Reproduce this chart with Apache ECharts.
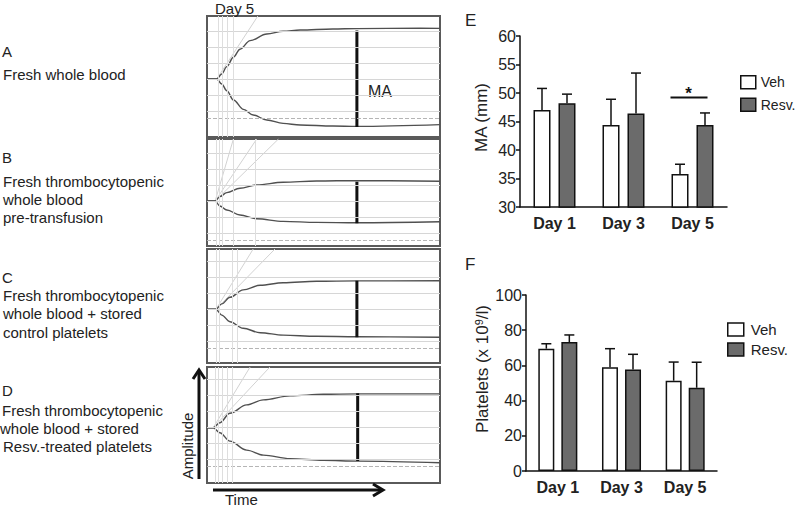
<!DOCTYPE html>
<html><head><meta charset="utf-8">
<script src="https://cdn.jsdelivr.net/npm/echarts@6/dist/echarts.min.js"></script>
<style>html,body{margin:0;padding:0;background:#fff}#c{width:800px;height:507px}</style>
</head><body><div id="c"></div><script>
// ---------- Panel E / F data ----------
const categories = ['Day 1', 'Day 3', 'Day 5'];
const maVeh = [47.0, 44.4, 35.8];
const maVehErr = [50.8, 48.9, 37.5];
const maResv = [48.2, 46.4, 44.4];
const maResvErr = [49.8, 53.5, 46.5];
const maSigLevel = 49.2;           // significance bar over Day 5
const pltVeh = [69.5, 58.9, 51.3];
const pltVehErr = [72.3, 69.5, 61.9];
const pltResv = [73.3, 57.6, 47.3];
const pltResvErr = [77.3, 66.3, 61.8];
const seriesNames = ['Veh', 'Resv.'];

// ---------- TEG traces: [time (min), amplitude (mm)] ----------
const tegA_upper = [[0,0],[2.5,0],[3.8,2.5],[5.1,6.2],[6.8,10.9],[8.5,14.9],[11.1,19.2],[15.4,22.5],[19.6,23.9],[24.0,24.5],[32.4,25.0],[38.6,25.2],[54.9,25.4],[60,25.3]];
const tegA_lower = [[0,0],[2.5,0],[3.8,-2.5],[5.1,-5.9],[6.8,-10.5],[9.4,-15.2],[11.9,-18.0],[15.4,-20.5],[19.6,-22.2],[24.0,-23.0],[32.4,-23.5],[38.6,-23.7],[60,-22.8]];
const tegA_ma = [[38.6,24.2],[38.6,-24.0]];
const tegB_upper = [[0,0],[2.1,0],[3.3,2.2],[5.1,4.2],[8.5,6.4],[12.8,8.0],[19.6,9.4],[28.2,10.0],[38.6,10.2],[60,9.9]];
const tegB_lower = [[0,0],[2.1,0],[3.3,-2.5],[5.1,-4.5],[8.5,-7.0],[12.8,-8.9],[19.6,-10.2],[28.2,-10.7],[38.6,-10.9],[60,-10.4]];
const tegB_ma = [[38.6,9.6],[38.6,-11.1]];
const tegC_upper = [[0,0],[2.3,0],[3.8,2.7],[5.9,6.0],[9.3,9.7],[13.7,12.0],[19.6,13.3],[28.2,14.0],[38.6,14.2],[60,14.3]];
const tegC_lower = [[0,0],[2.3,0],[3.8,-2.9],[5.9,-6.2],[9.3,-9.5],[13.7,-11.7],[19.6,-12.9],[28.2,-13.5],[38.6,-13.7],[60,-14.0]];
const tegC_ma = [[38.6,14.3],[38.6,-14.0]];
const tegD_upper = [[0,0],[1.6,0],[3.3,2.5],[5.9,7.2],[10.2,11.4],[14.5,13.9],[21.4,15.9],[30.0,16.7],[38.8,16.9],[60,16.9]];
const tegD_lower = [[0,0],[1.6,0],[3.3,-2.5],[5.9,-6.7],[10.2,-11.2],[14.5,-13.7],[21.4,-15.5],[30.0,-16.3],[38.8,-16.7],[60,-17.5]];
const tegD_ma = [[38.8,17.2],[38.8,-16.7]];
// reference grid of the tracing paper
const tegLevels = [24, 16, 8, 0, -8, -16];
const tegDashLevel = -19.5;
const tegA_vlines = [2.8, 3.9, 5.2, 6.7];
const tegB_vlines = [2.3, 3.2, 3.8, 6.8, 12.4];
const tegC_vlines = [2.5, 3.2, 6.4, 7.7];
const tegD_vlines = [2.1, 2.8, 3.8, 5.1, 6.4];
const tegA_angle = [[2.5, 13.1]];
const tegB_angle = [[2.1, 6.8], [2.1, 12.8], [2.1, 18.4]];
const tegC_angle = [[2.3, 11.9], [2.3, 17.5]];
const tegD_angle = [[1.6, 11.1], [1.6, 16.2]];

// ---------- layout ----------
const FONT = 'Liberation Sans, Arial, sans-serif';
const TXT = '#222';
const tegPanels = [
  {top:16,  height:121, min:-29,   max:31.5,  up:tegA_upper, lo:tegA_lower, ma:tegA_ma, vl:tegA_vlines, ang:tegA_angle},
  {top:139, height:107, min:-22.5, max:31,    up:tegB_upper, lo:tegB_lower, ma:tegB_ma, vl:tegB_vlines, ang:tegB_angle},
  {top:249, height:114, min:-26.85,max:30.15, up:tegC_upper, lo:tegC_lower, ma:tegC_ma, vl:tegC_vlines, ang:tegC_angle},
  {top:367, height:116, min:-27.65,max:30.35, up:tegD_upper, lo:tegD_lower, ma:tegD_ma, vl:tegD_vlines, ang:tegD_angle}
];

const grid = [], xAxis = [], yAxis = [], series = [];
tegPanels.forEach((p, i) => {
  grid.push({left:207, width:233, top:p.top, height:p.height, show:true, borderColor:'#5a5a5a', borderWidth:2, backgroundColor:'#fff'});
  xAxis.push({gridIndex:i, type:'value', min:0, max:60, show:false});
  yAxis.push({gridIndex:i, type:'value', min:p.min, max:p.max, show:false});
  // paper grid
  series.push({type:'line', xAxisIndex:i, yAxisIndex:i, data:[], silent:true, z:1,
    markLine:{silent:true, symbol:'none', label:{show:false}, animation:false,
      data: tegLevels.map(v => ({yAxis:v, lineStyle:{color:'#d6d6d6', width:1, type:'solid'}}))
        .concat([{yAxis:tegDashLevel, lineStyle:{color:'#b5b5b5', width:1, type:'dashed'}}])
        .concat(p.vl.map(v => ({xAxis:v, lineStyle:{color:'#dedede', width:1, type:'solid'}})))
    }});
  p.ang.forEach(a => {
    series.push({type:'line', xAxisIndex:i, yAxisIndex:i, data:[[a[0],0],[a[1],p.max]], showSymbol:false, silent:true, z:1,
      lineStyle:{color:'#d2d2d2', width:1}});
  });
  [p.up, p.lo].forEach(d => {
    series.push({type:'line', xAxisIndex:i, yAxisIndex:i, data:d, showSymbol:false, smooth:0.35, smoothMonotone:'x', silent:true, z:3,
      lineStyle:{color:'#505050', width:1.4}});
  });
  series.push({type:'line', xAxisIndex:i, yAxisIndex:i, data:p.ma, showSymbol:false, silent:true, z:4,
    lineStyle:{color:'#111', width:3}});
});

// E and F grids
grid.push({left:520, top:36, width:207, height:171});
grid.push({left:526, top:295, width:191, height:176});
const axisLine = {lineStyle:{color:'#111', width:1.5}};
[4, 5].forEach(g => {
  xAxis.push({gridIndex:g, type:'category', data:categories, axisLine:axisLine,
    axisTick:{alignWithLabel:true, length:5, lineStyle:{color:'#111', width:1.5}},
    axisLabel:{fontFamily:FONT, fontSize:16, fontWeight:'bold', color:TXT, margin:8}});
});
yAxis.push({gridIndex:4, type:'value', min:30, max:60, interval:5, axisLine:{show:true, lineStyle:{color:'#111', width:1.5}},
  axisTick:{show:true, length:4, lineStyle:{color:'#111', width:1.5}}, splitLine:{show:false},
  axisLabel:{fontFamily:FONT, fontSize:16, color:TXT, margin:4},
  name:'MA (mm)', nameLocation:'middle', nameGap:30, nameRotate:90,
  nameTextStyle:{fontFamily:FONT, fontSize:17, color:TXT, padding:[0,0,0,8]}});
yAxis.push({gridIndex:5, type:'value', min:0, max:100, interval:20, axisLine:{show:true, lineStyle:{color:'#111', width:1.5}},
  axisTick:{show:true, length:4, lineStyle:{color:'#111', width:1.5}}, splitLine:{show:false},
  axisLabel:{fontFamily:FONT, fontSize:16, color:TXT, margin:4},
  name:'{a|Platelets (x 10}{s|9}{a|/l)}', nameLocation:'middle', nameGap:34, nameRotate:90,
  nameTextStyle:{fontFamily:FONT, fontSize:17, color:TXT, padding:[0,0,0,28],
    rich:{a:{fontFamily:FONT, fontSize:17, color:TXT}, s:{fontFamily:FONT, fontSize:11, color:TXT, verticalAlign:'top', padding:[0,0,8,0]}}}});

const vehStyle = {color:'#ffffff', borderColor:'#111', borderWidth:1.5};
const resvStyle = {color:'#6b6b6b', borderColor:'#111', borderWidth:1.5};
function errRender(dx) {
  return function (params, api) {
    const b = api.coord([api.value(0), api.value(1)]);
    const t = api.coord([api.value(0), api.value(2)]);
    const x = b[0] + dx;
    return {type:'group', children:[
      {type:'line', shape:{x1:x, y1:b[1], x2:x, y2:t[1]}, style:{stroke:'#111', lineWidth:1.5}},
      {type:'line', shape:{x1:x-5, y1:t[1], x2:x+5, y2:t[1]}, style:{stroke:'#111', lineWidth:1.5}}
    ]};
  };
}
function addBars(g, veh, vehErr, resv, resvErr, bw, gap, off) {
  series.push({type:'bar', name:seriesNames[0], xAxisIndex:g, yAxisIndex:g, data:veh, barWidth:bw, barGap:gap, itemStyle:vehStyle, z:2, animation:false});
  series.push({type:'bar', name:seriesNames[1], xAxisIndex:g, yAxisIndex:g, data:resv, barWidth:bw, barGap:gap, itemStyle:resvStyle, z:2, animation:false});
  series.push({type:'custom', name:'vehErr'+g, xAxisIndex:g, yAxisIndex:g, renderItem:errRender(-off), z:3,
    data:veh.map((v,i)=>[i, v, vehErr[i]]), encode:{x:0, y:2}, animation:false});
  series.push({type:'custom', name:'resvErr'+g, xAxisIndex:g, yAxisIndex:g, renderItem:errRender(off), z:3,
    data:resv.map((v,i)=>[i, v, resvErr[i]]), encode:{x:0, y:2}, animation:false});
}
addBars(4, maVeh, maVehErr, maResv, maResvErr, 17, '47%', 12.5);
addBars(5, pltVeh, pltVehErr, pltResv, pltResvErr, 16, '44%', 11.5);
// significance bracket on Day 5 (panel E)
series.push({type:'custom', name:'sig', xAxisIndex:4, yAxisIndex:4, z:4, animation:false,
  data:[[2, maSigLevel]], encode:{x:0, y:1},
  renderItem:function(params, api){
    const c = api.coord([api.value(0), api.value(1)]);
    return {type:'group', children:[
      {type:'line', shape:{x1:c[0]-22, y1:c[1], x2:c[0]+15, y2:c[1]}, style:{stroke:'#111', lineWidth:2}},
      {type:'text', style:{text:'*', x:c[0]-4, y:c[1]-4, font:'bold 17px ' + FONT, fill:'#111', textAlign:'center', textVerticalAlign:'middle'}}
    ]};
  }});

function txt(t, x, y, size, extra) {
  return Object.assign({type:'text', x:x, y:y, silent:true,
    style:{text:t, font:(size||15) + 'px ' + FONT, fill:TXT, textAlign:'left', textVerticalAlign:'middle'}}, extra || {});
}
const graphic = [
  txt('Day 5', 215, 8, 15),
  txt('MA', 368, 91, 16),
  txt('A', 2, 51, 15),
  txt('Fresh whole blood', 3, 74, 15),
  txt('B', 2, 157, 15),
  txt('Fresh thrombocytopenic', 3, 181, 15),
  txt('whole blood', 3, 199, 15),
  txt('pre-transfusion', 3, 217, 15),
  txt('C', 2, 277, 15),
  txt('Fresh thrombocytopenic', 3, 295, 15),
  txt('whole blood + stored', 3, 313, 15),
  txt('control platelets', 3, 332, 15),
  txt('D', 2, 390, 15),
  txt('Fresh thrombocytopenic', 2, 410, 15),
  txt('whole blood + stored', 0, 428, 15),
  txt('Resv.-treated platelets', 3, 446, 15),
  txt('E', 465, 20, 17),
  txt('F', 465, 264, 17),
  txt('Time', 225, 499, 15),
  {type:'text', x:187, y:446, rotation:Math.PI/2, silent:true,
    style:{text:'Amplitude', font:'15px ' + FONT, fill:TXT, textAlign:'center', textVerticalAlign:'middle'}},
  {type:'polyline', silent:true, shape:{points:[[199,479],[199,371]]}, style:{stroke:'#111', lineWidth:3}},
  {type:'polyline', silent:true, shape:{points:[[193,379],[199,370],[205,379]]}, style:{stroke:'#111', lineWidth:3, fill:null}},
  {type:'polyline', silent:true, shape:{points:[[213,490],[382,490]]}, style:{stroke:'#111', lineWidth:3}},
  {type:'polyline', silent:true, shape:{points:[[373,484],[383,490],[373,496]]}, style:{stroke:'#111', lineWidth:3, fill:null}}
];

const legendBase = {orient:'vertical', icon:'rect', selectedMode:false, data:seriesNames,
  itemStyle:{borderColor:'#111', borderWidth:1.5}};
const option = {
  animation:false,
  backgroundColor:'#fff',
  grid:grid, xAxis:xAxis, yAxis:yAxis, series:series, graphic:graphic,
  legend:[
    Object.assign({}, legendBase, {left:740, top:75, itemWidth:15, itemHeight:13, itemGap:8, padding:0,
      textStyle:{fontFamily:FONT, fontSize:14, color:TXT}}),
    Object.assign({}, legendBase, {left:727, top:322, itemWidth:16, itemHeight:13, itemGap:5, padding:0,
      textStyle:{fontFamily:FONT, fontSize:15, color:TXT, padding:[0,0,0,2]}})
  ]
};
const chart = echarts.init(document.getElementById('c'), null, {renderer:'svg'});
chart.setOption(option);
</script></body></html>
